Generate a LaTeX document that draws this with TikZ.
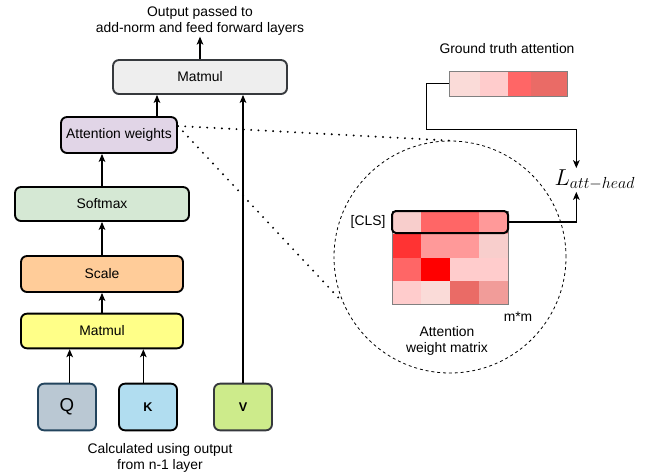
\documentclass[tikz,border=0pt]{standalone}
\usepackage{fontspec}
\setmainfont{Liberation Sans}
\usetikzlibrary{arrows.meta,positioning}

\definecolor{mmtop}{HTML}{EEEEEE}
\definecolor{awfill}{HTML}{E1D5E7}
\definecolor{smfill}{HTML}{D5E8D4}
\definecolor{scfill}{HTML}{FFCC99}
\definecolor{mmfill}{HTML}{FFFF88}
\definecolor{qfill}{HTML}{BAC8D3}
\definecolor{qline}{HTML}{23445D}
\definecolor{kfill}{HTML}{B1DDF0}
\definecolor{vfill}{HTML}{CDEB8B}
\definecolor{dline}{HTML}{36393D}
% heat map shades
\definecolor{h1}{HTML}{F8CECC}
\definecolor{h2}{HTML}{FFCCCC}
\definecolor{h3}{HTML}{FADBD8}
\definecolor{h4}{HTML}{FF9999}
\definecolor{h5}{HTML}{F19C99}
\definecolor{h6}{HTML}{FF6666}
\definecolor{h7}{HTML}{EA6B66}
\definecolor{h8}{HTML}{FF3333}
\definecolor{h9}{HTML}{FF0000}

\begin{document}
\begin{tikzpicture}[x=0.75pt,y=-0.75pt,
	txt/.style={font=\fontsize{10.4}{11.4}\selectfont, align=center, inner sep=1pt},
	box/.style={draw=dline, line width=1.4pt, rounded corners=4.5pt, inner sep=0pt, font=\fontsize{10.4}{12}\selectfont},
	inbox/.style={box, minimum width=43.5pt, minimum height=35pt},
	arr/.style={-{Stealth[length=6pt,width=5pt,inset=1.5pt]}, line width=0.8pt},
	dots/.style={line width=1.6pt, line cap=round, dash pattern=on 0pt off 5.5pt}]
	
	\useasboundingbox (0,0) rectangle (664,475);
	
	% left stack
	\node[box, fill=mmtop, minimum width=130.5pt, minimum height=25.5pt] (mm2) at (200,77) {Matmul};
	\node[box, draw=black, fill=awfill, minimum width=87pt, minimum height=27pt] (aw) at (119,135) {Attention weights};
	\node[box, draw=black, fill=smfill, minimum width=130.5pt, minimum height=25.5pt] (sm) at (102,204) {Softmax};
	\node[box, draw=black, fill=scfill, minimum width=121.5pt, minimum height=27pt] (sc) at (102,274) {Scale};
	\node[box, draw=black, fill=mmfill, minimum width=121.5pt, minimum height=26pt] (mm1) at (102,331) {Matmul};
	
	\node[inbox, draw=qline, fill=qfill, font=\fontsize{14}{16}\selectfont] (q) at (67,407) {Q};
	\node[inbox, draw=black, fill=kfill, font=\fontsize{9.5}{11}\selectfont\bfseries] (k) at (148,407) {K};
	\node[inbox, fill=vfill, font=\fontsize{9.5}{11}\selectfont\bfseries] (v) at (243,407) {V};
	
	\node[txt] (out) at (200,21) {Output passed to\\add-norm and feed forward layers};
	\node[txt] (calc) at (160,458) {Calculated using output\\from n-1 layer};
	
	\draw[arr] ([xshift=2pt]q.north) -- ([xshift=2pt]q.north |- mm1.south);
	\draw[arr] ([xshift=-3.5pt]k.north) -- ([xshift=-3.5pt]k.north |- mm1.south);
	\draw[arr] (mm1) -- (sc);
	\draw[arr] (sc) -- (sm);
	\draw[arr] (sm.north) -- (sm.north |- aw.south);
	\draw[arr] ([xshift=28.5pt]aw.north) -- ([xshift=28.5pt]aw.north |- mm2.south);
	\draw[arr] (v.north) -- (v.north |- mm2.south);
	\draw[arr] (mm2) -- (out);
	
	% zoomed view
	\node[circle, draw, line width=0.6pt, dash pattern=on 2.2pt off 2.2pt, minimum size=174pt] (zoom) at (450,257) {};
	\draw[dots] ([yshift=6.75pt]aw.east) -- (zoom.north);
	\draw[dots] ([yshift=6.75pt]aw.east) -- (zoom.203);
	
	\foreach \r/\lst in {0/{h1,h6,h6,h4},1/{h8,h4,h4,h1},2/{h6,h9,h2,h2},3/{h2,h3,h7,h5}}
	\foreach \clr [count=\j from 0] in \lst
	{
		\fill[\clr] ({392+29*\j},{211+23.25*\r}) rectangle ++(29,23.25);
	}
	\draw[gray, line width=0.5pt] (392,211) rectangle (508,304);
	\node[draw, line width=1.5pt, rounded corners=3pt, minimum width=87pt, minimum height=16.5pt, inner sep=0pt] (cls) at (450,222) {};
	\node[txt, left=3pt of cls] (clstxt) {[CLS]};
	\node[txt] (mm) at (518,317) {m*m};
	\node[txt] (awm) at (447,341) {Attention\\weight matrix};
	
	% ground truth row
	\foreach \a/\b/\clr in {449/480/h3,480/508/h2,508/531/h6,531/567/h7}
	{
		\fill[\clr] (\a,71) rectangle (\b,96);
	}
	\node[draw=gray, line width=0.5pt, minimum width=88.5pt, minimum height=18.75pt, inner sep=0pt] (gt) at (508,83.5) {};
	\node[txt] (gtt) at (507,49) {Ground truth attention};
	
	% loss
	\node[anchor=west, inner sep=1pt, font=\fontsize{17}{20}\selectfont] (loss) at (553,180) {$L_{att-head}$};
	\coordinate (lin) at ([xshift=17.5pt]loss.north west);
	\coordinate (lout) at ([xshift=17.5pt]loss.south west);
	\draw[arr] (gt.west) -- ++(-22,0) -- ++(0,46) -| (lin);
	\draw[arr] (cls.east) -| (lout);
\end{tikzpicture}
\end{document}
